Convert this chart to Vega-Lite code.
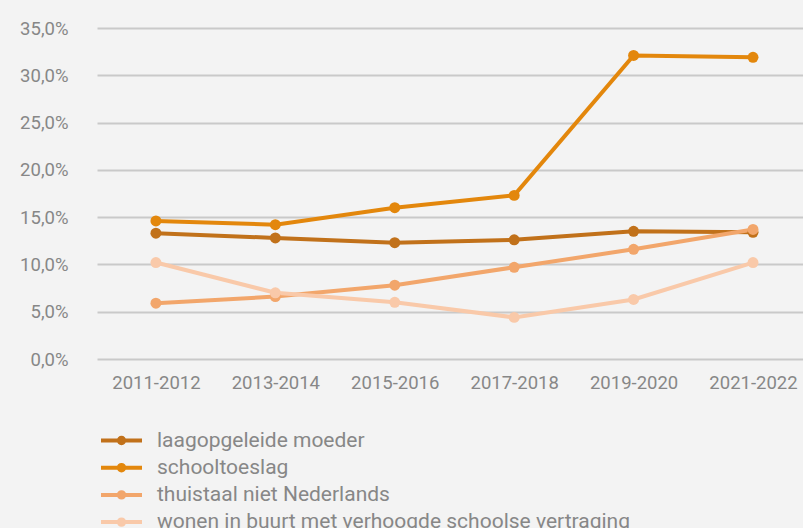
{
  "$schema": "https://vega.github.io/schema/vega-lite/v6.json",
  "width": 706,
  "height": 331,
  "autosize": {"type": "none"},
  "padding": {"left": 97, "top": 28, "right": 0, "bottom": 169},
  "background": "#f3f3f3",
  "config": {
    "view": {"stroke": null},
    "font": "Roboto",
    "axis": {"labelFont": "Roboto", "labelColor": "#878787", "labelFontSize": 18.5, "domain": false, "ticks": false, "title": null}
  },
  "data": {
    "values": [
      {"jaar": "2011-2012", "reeks": "laagopgeleide moeder", "waarde": 13.3},
      {"jaar": "2013-2014", "reeks": "laagopgeleide moeder", "waarde": 12.8},
      {"jaar": "2015-2016", "reeks": "laagopgeleide moeder", "waarde": 12.3},
      {"jaar": "2017-2018", "reeks": "laagopgeleide moeder", "waarde": 12.6},
      {"jaar": "2019-2020", "reeks": "laagopgeleide moeder", "waarde": 13.5},
      {"jaar": "2021-2022", "reeks": "laagopgeleide moeder", "waarde": 13.4},
      {"jaar": "2011-2012", "reeks": "schooltoeslag", "waarde": 14.6},
      {"jaar": "2013-2014", "reeks": "schooltoeslag", "waarde": 14.2},
      {"jaar": "2015-2016", "reeks": "schooltoeslag", "waarde": 16.0},
      {"jaar": "2017-2018", "reeks": "schooltoeslag", "waarde": 17.3},
      {"jaar": "2019-2020", "reeks": "schooltoeslag", "waarde": 32.1},
      {"jaar": "2021-2022", "reeks": "schooltoeslag", "waarde": 31.9},
      {"jaar": "2011-2012", "reeks": "thuistaal niet Nederlands", "waarde": 5.9},
      {"jaar": "2013-2014", "reeks": "thuistaal niet Nederlands", "waarde": 6.6},
      {"jaar": "2015-2016", "reeks": "thuistaal niet Nederlands", "waarde": 7.8},
      {"jaar": "2017-2018", "reeks": "thuistaal niet Nederlands", "waarde": 9.7},
      {"jaar": "2019-2020", "reeks": "thuistaal niet Nederlands", "waarde": 11.6},
      {"jaar": "2021-2022", "reeks": "thuistaal niet Nederlands", "waarde": 13.7},
      {"jaar": "2011-2012", "reeks": "wonen in buurt met verhoogde schoolse vertraging", "waarde": 10.2},
      {"jaar": "2013-2014", "reeks": "wonen in buurt met verhoogde schoolse vertraging", "waarde": 7.0},
      {"jaar": "2015-2016", "reeks": "wonen in buurt met verhoogde schoolse vertraging", "waarde": 6.0},
      {"jaar": "2017-2018", "reeks": "wonen in buurt met verhoogde schoolse vertraging", "waarde": 4.4},
      {"jaar": "2019-2020", "reeks": "wonen in buurt met verhoogde schoolse vertraging", "waarde": 6.3},
      {"jaar": "2021-2022", "reeks": "wonen in buurt met verhoogde schoolse vertraging", "waarde": 10.2}
    ]
  },
  "encoding": {
    "x": {
      "field": "jaar", "type": "ordinal",
      "scale": {"type": "point", "padding": 0.456, "align": 0.541},
      "axis": {"labelAngle": 0, "labelPadding": 14.5, "grid": false}
    },
    "y": {
      "field": "waarde", "type": "quantitative",
      "scale": {"domain": [0, 35], "nice": false},
      "axis": {
        "values": [0, 5, 10, 15, 20, 25, 30, 35],
        "labelExpr": "replace(format(datum.value, '.1f'), '.', ',') + '%'",
        "labelPadding": 29,
        "grid": true, "gridColor": "#c9c9c9", "gridWidth": 2
      }
    },
    "color": {
      "field": "reeks", "type": "nominal",
      "scale": {
        "domain": ["laagopgeleide moeder", "schooltoeslag", "thuistaal niet Nederlands", "wonen in buurt met verhoogde schoolse vertraging"],
        "range": ["#c1711a", "#e3870c", "#f2a66b", "#f9c9a9"]
      },
      "legend": {
        "title": null,
        "orient": "none",
        "legendX": 14,
        "legendY": 402,
        "direction": "vertical",
        "labelFont": "Roboto",
        "labelFontSize": 21,
        "labelColor": "#878787",
        "labelLimit": 0,
        "labelOffset": 25,
        "rowPadding": 4.2,
        "symbolType": "M-2.5,0H2.5M-0.33,0A0.33,0.33,0,1,1,0.33,0A0.33,0.33,0,1,1,-0.33,0",
        "symbolSize": 269,
        "symbolStrokeWidth": 4,
        "symbolOpacity": 1
      }
    }
  },
  "layer": [
    {
      "mark": {"type": "line", "strokeWidth": 4, "point": {"filled": true, "size": 120, "opacity": 1}}
    }
  ]
}
